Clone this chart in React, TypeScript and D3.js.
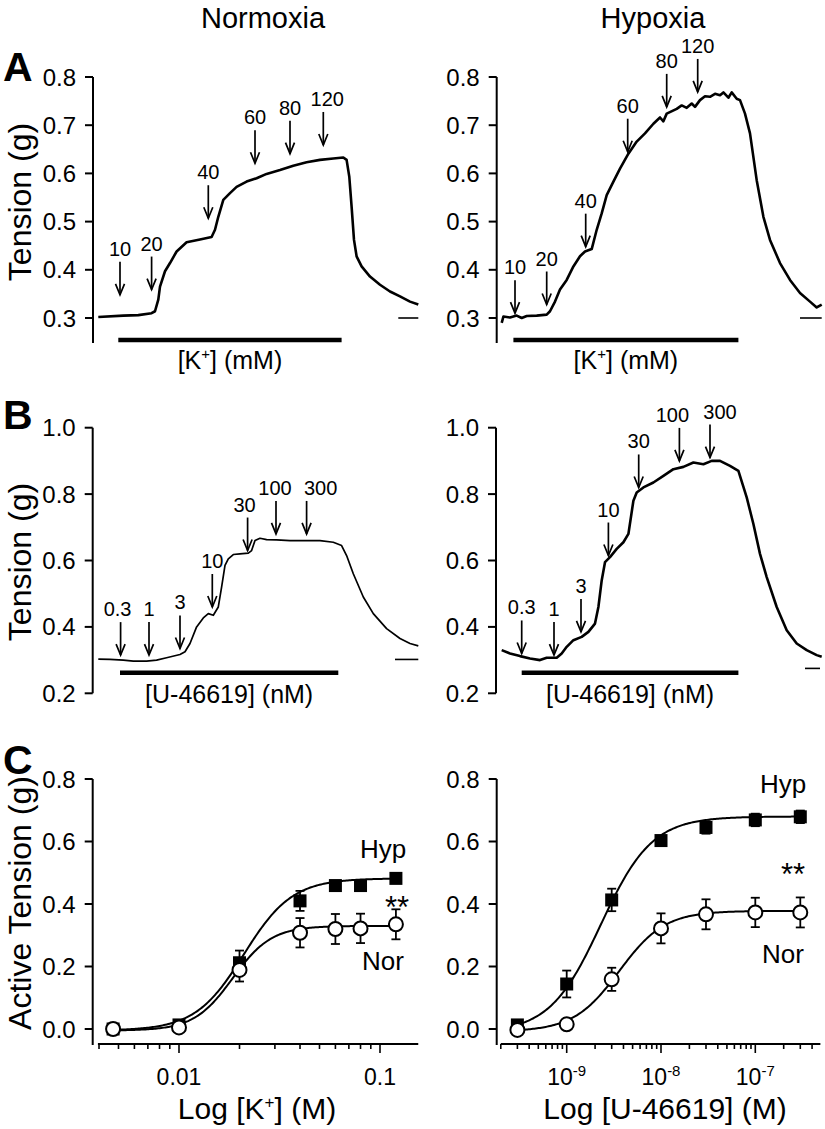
import React from "react";
import * as d3 from "d3";

const FONT = "'Liberation Sans', Arial, Helvetica, sans-serif";

// recorded traces: [time (min), tension (g)]
const kNorTrace: [number, number][] = [
  [0, 0.302], [2.5, 0.305], [4, 0.306], [5.33, 0.31], [5.67, 0.314], [6, 0.338], [6.17, 0.365],
  [6.67, 0.397], [7.17, 0.414], [7.83, 0.438], [8.83, 0.457], [10.17, 0.463], [11.33, 0.468],
  [11.67, 0.483], [12, 0.51], [12.5, 0.545], [13.17, 0.559], [13.83, 0.572], [14.83, 0.583],
  [15.83, 0.59], [16.83, 0.599], [18.17, 0.607], [19.5, 0.616], [20.83, 0.623], [22.17, 0.628],
  [23.5, 0.631], [24.5, 0.633], [24.83, 0.628], [25.1, 0.593], [25.33, 0.531], [25.57, 0.462],
  [25.83, 0.428], [26.33, 0.407], [27.17, 0.386], [28.17, 0.369], [29.17, 0.355], [30.17, 0.345],
  [31.17, 0.334], [32, 0.328],
];
const kHypTrace: [number, number][] = [
  [0, 0.29], [0.17, 0.303], [0.83, 0.301], [1.5, 0.305], [2, 0.3], [2.5, 0.304], [3.5, 0.305],
  [4.5, 0.307], [4.83, 0.314], [5.33, 0.334], [5.83, 0.359], [6.5, 0.379], [7.17, 0.407],
  [7.83, 0.428], [8.33, 0.438], [9, 0.443], [9.5, 0.483], [10, 0.517], [10.5, 0.555],
  [11.17, 0.583], [11.83, 0.61], [12.67, 0.641], [13.5, 0.666], [14.33, 0.683], [15.17, 0.703],
  [15.83, 0.716], [16.17, 0.708], [16.5, 0.724], [17.5, 0.734], [18, 0.741], [18.5, 0.736],
  [19, 0.745], [19.33, 0.738], [19.83, 0.752], [20.33, 0.76], [20.83, 0.759], [21.33, 0.765],
  [21.83, 0.762], [22.17, 0.768], [22.67, 0.757], [23, 0.768], [23.5, 0.755], [23.83, 0.752],
  [24.33, 0.724], [24.83, 0.683], [25.5, 0.586], [26.17, 0.51], [26.83, 0.462], [27.83, 0.414],
  [28.83, 0.379], [29.83, 0.352], [30.83, 0.334], [31.5, 0.322], [32, 0.328],
];
const uNorTrace: [number, number][] = [
  [0, 0.303], [1.17, 0.302], [2.5, 0.3], [3.5, 0.297], [4.83, 0.297], [5.83, 0.3], [6.83, 0.307],
  [8.17, 0.317], [8.67, 0.325], [9.17, 0.35], [9.83, 0.4], [10.5, 0.427], [11, 0.44], [11.5, 0.435],
  [12, 0.46], [12.33, 0.52], [12.67, 0.585], [13, 0.605], [13.5, 0.618], [14.17, 0.62], [15, 0.622],
  [15.33, 0.63], [15.67, 0.66], [16.17, 0.667], [16.83, 0.663], [17.83, 0.662], [19.17, 0.66],
  [20.83, 0.66], [22.17, 0.66], [23.5, 0.655], [24.33, 0.645], [24.83, 0.615], [25.5, 0.56],
  [26.5, 0.49], [27.5, 0.44], [28.83, 0.395], [30.17, 0.365], [31.17, 0.35], [32, 0.343],
];
const uHypTrace: [number, number][] = [
  [0, 0.33], [0.83, 0.32], [1.83, 0.312], [2.83, 0.305], [3.83, 0.3], [4.5, 0.307], [5.5, 0.307],
  [6, 0.32], [6.5, 0.34], [7.17, 0.36], [8, 0.37], [8.67, 0.385], [9.33, 0.41], [9.67, 0.46],
  [10, 0.54], [10.33, 0.595], [10.83, 0.61], [11.5, 0.635], [12.17, 0.655], [12.67, 0.68],
  [13.17, 0.78], [13.5, 0.805], [14.17, 0.82], [15.17, 0.835], [16.17, 0.855], [17.17, 0.875],
  [18.17, 0.882], [19.17, 0.895], [20.17, 0.89], [21, 0.9], [21.83, 0.9], [22.83, 0.885],
  [23.67, 0.87], [24.5, 0.79], [25.17, 0.71], [25.83, 0.62], [26.5, 0.55], [27.5, 0.46],
  [28.5, 0.39], [29.5, 0.35], [30.5, 0.33], [31.5, 0.315], [32, 0.31],
];

// additions: label, time (min), tension at arrow tip (g)
const kNorArrows = [
  { label: "10", t: 2.17, tip: 0.348 }, { label: "20", t: 5.33, tip: 0.359 },
  { label: "40", t: 11, tip: 0.507 }, { label: "60", t: 15.67, tip: 0.621 },
  { label: "80", t: 19.17, tip: 0.641 }, { label: "120", t: 22.5, tip: 0.659 },
];
const kHypArrows = [
  { label: "10", t: 1.33, tip: 0.31 }, { label: "20", t: 4.5, tip: 0.328 },
  { label: "40", t: 8.4, tip: 0.448 }, { label: "60", t: 12.6, tip: 0.645 },
  { label: "80", t: 16.5, tip: 0.738 }, { label: "120", t: 19.6, tip: 0.769 },
];
const uNorArrows = [
  { label: "0.3", t: 2.23, tip: 0.315 }, { label: "1", t: 5.07, tip: 0.315 },
  { label: "3", t: 8.17, tip: 0.335 }, { label: "10", t: 11.4, tip: 0.46 },
  { label: "30", t: 14.93, tip: 0.63 }, { label: "100", t: 17.77, tip: 0.68 },
  { label: "300", t: 20.83, tip: 0.68 },
];
const uHypArrows = [
  { label: "0.3", t: 2, tip: 0.32 }, { label: "1", t: 5.23, tip: 0.315 },
  { label: "3", t: 7.93, tip: 0.385 }, { label: "10", t: 10.67, tip: 0.615 },
  { label: "30", t: 13.7, tip: 0.82 }, { label: "100", t: 17.77, tip: 0.9 },
  { label: "300", t: 20.83, tip: 0.91 },
];

// agonist application (min) and baseline marks [t0, t1, g]
const kNorBar = [2, 24.33];
const kHypBar = [1.17, 23.67];
const uNorBar = [2.17, 24];
const uHypBar = [2, 23.67];
const kNorDash = [30, 32, 0.3];
const kHypDash = [29.83, 32, 0.3];
const uNorDash = [29.67, 32, 0.302];
const uHypDash = [30.33, 31.83, 0.275];

const kTicks = [0.3, 0.4, 0.5, 0.6, 0.7, 0.8];
const uTicks = [0.2, 0.4, 0.6, 0.8, 1.0];
const crcTicks = [0, 0.2, 0.4, 0.6, 0.8];

// concentration-response, mean and SEM (g)
const kConc = [0.0047, 0.01, 0.02, 0.04, 0.06, 0.08, 0.12];
const kHypMean = [0.0, 0.013, 0.212, 0.41, 0.459, 0.459, 0.482];
const kHypSem = [0.008, 0.008, 0.039, 0.032, 0.012, 0.01, 0.01];
const kNorMean = [0.0, 0.005, 0.189, 0.308, 0.32, 0.322, 0.335];
const kNorSem = [0.008, 0.008, 0.037, 0.047, 0.048, 0.047, 0.048];

const uConc = [3e-10, 1e-9, 3e-9, 1e-8, 3e-8, 1e-7, 3e-7];
const uHypMean = [0.013, 0.144, 0.413, 0.603, 0.645, 0.669, 0.679];
const uHypSem = [0.008, 0.043, 0.036, 0.01, 0.02, 0.02, 0.02];
const uNorMean = [-0.003, 0.015, 0.159, 0.322, 0.367, 0.373, 0.373];
const uNorSem = [0.005, 0.005, 0.037, 0.048, 0.048, 0.047, 0.048];

// sigmoid fits
const kHypFit = { bottom: -0.005, top: 0.482, ec50: 0.021, hill: 3.6 };
const kNorFit = { bottom: -0.005, top: 0.33, ec50: 0.0185, hill: 4.5 };
const uHypFit = { bottom: -0.012, top: 0.68, ec50: 2.3e-9, hill: 1.6 };
const uNorFit = { bottom: -0.008, top: 0.378, ec50: 3.6e-9, hill: 1.8 };

const fmt1 = d3.format(".1f");

function Arrow({ x, yTip, label, dx }: { x: number; yTip: number; label: string; dx: number }) {
  const len = 33;
  return (
    <g>
      <line x1={x} x2={x} y1={yTip - len} y2={yTip} stroke="#000" strokeWidth={1.7} />
      <polyline
        points={`${x - 4.5},${yTip - 11} ${x},${yTip} ${x + 4.5},${yTip - 11}`}
        fill="none"
        stroke="#000"
        strokeWidth={1.7}
      />
      <text x={x + dx} y={yTip - len - 6} textAnchor="middle" fontSize={20}>
        {label}
      </text>
    </g>
  );
}

function YAxis({ x, y, ticks, y0, y1 }: any) {
  return (
    <g>
      <line x1={x} x2={x} y1={y0} y2={y1} stroke="#000" strokeWidth={2} />
      {ticks.map((v: number) => (
        <g key={v}>
          <line x1={x - 8} x2={x} y1={y(v)} y2={y(v)} stroke="#000" strokeWidth={2} />
          <text x={x - 17} y={y(v) + 8.5} textAnchor="end" fontSize={24}>
            {fmt1(v)}
          </text>
        </g>
      ))}
    </g>
  );
}

function TracePanel(props: any) {
  const { axisX, x0, yDomain, yRange, ticks, axisEnd, trace, arrows, bar, barY, barLabel, labelY, dash, width } = props;
  const shift = props.labelShift || {};
  const x = d3.scaleLinear().domain([0, 32]).range([x0, x0 + 320]);
  const y = d3.scaleLinear().domain(yDomain).range(yRange);
  const line = d3.line<[number, number]>().x((d) => x(d[0])).y((d) => y(d[1]));
  return (
    <g>
      <YAxis x={axisX} y={y} ticks={ticks} y0={y(yDomain[1])} y1={axisEnd} />
      <path d={line(trace) || ""} fill="none" stroke="#000" strokeWidth={width} strokeLinejoin="round" />
      {arrows.map((a: any) => (
        <Arrow key={a.label} x={x(a.t)} yTip={y(a.tip)} label={a.label} dx={shift[a.label] || 0} />
      ))}
      <line x1={x(bar[0])} x2={x(bar[1])} y1={barY} y2={barY} stroke="#000" strokeWidth={4.5} />
      <line x1={x(dash[0])} x2={x(dash[1])} y1={y(dash[2])} y2={y(dash[2])} stroke="#000" strokeWidth={1.6} />
      <text x={(x(bar[0]) + x(bar[1])) / 2} y={labelY} textAnchor="middle" fontSize={25}>
        {barLabel}
      </text>
    </g>
  );
}

function hill(f: any, c: number) {
  return f.bottom + (f.top - f.bottom) / (1 + Math.pow(f.ec50 / c, f.hill));
}

function DosePanel(props: any) {
  const { axisX, logDomain, logRange, extent, conc, hyp, hypSem, nor, norSem, hypFit, norFit, labels, tickLabel, title, titleX } = props;
  const x = d3.scaleLog().domain(logDomain).range(logRange);
  const y = d3.scaleLinear().domain([0, 0.8]).range([1029, 779]);
  const axisY = 1044;
  const tickScale = d3.scaleLog().domain(extent);
  const allTicks = tickScale.ticks();
  const isMajor = (v: number) => Math.abs(Math.log10(v) - Math.round(Math.log10(v))) < 1e-6;
  const lo = Math.log(conc[0]);
  const hi = Math.log(conc[conc.length - 1]);
  const curveX = d3.range(0, 201).map((i) => Math.exp(lo + (i / 200) * (hi - lo)));
  const line = d3.line<number>().x((c) => x(c)).y((c) => y(hill(hypFit, c)));
  const lineN = d3.line<number>().x((c) => x(c)).y((c) => y(hill(norFit, c)));
  const err = (means: number[], sems: number[]) =>
    conc.map((c: number, i: number) => {
      const cx = x(c);
      const t = y(means[i] + sems[i]);
      const b = y(means[i] - sems[i]);
      return (
        <g key={i} stroke="#000" strokeWidth={1.8}>
          <line x1={cx} x2={cx} y1={t} y2={b} />
          <line x1={cx - 4.5} x2={cx + 4.5} y1={t} y2={t} />
          <line x1={cx - 4.5} x2={cx + 4.5} y1={b} y2={b} />
        </g>
      );
    });
  return (
    <g>
      <YAxis x={axisX} y={y} ticks={crcTicks} y0={y(0.8)} y1={axisY + 1} />
      <line x1={x(extent[0])} x2={x(extent[1])} y1={axisY} y2={axisY} stroke="#000" strokeWidth={2} />
      {allTicks.map((v: number, i: number) => (
        <line key={i} x1={x(v)} x2={x(v)} y1={axisY} y2={axisY + (isMajor(v) ? 9 : 5)} stroke="#000" strokeWidth={1.6} />
      ))}
      {allTicks.filter(isMajor).map((v: number, i: number) => (
        <text key={i} x={x(v)} y={1085} textAnchor="middle" fontSize={23}>
          {tickLabel(v)}
        </text>
      ))}
      <text x={titleX} y={1119} textAnchor="middle" fontSize={30}>
        {title}
      </text>
      <path d={line(curveX) || ""} fill="none" stroke="#000" strokeWidth={2} />
      <path d={lineN(curveX) || ""} fill="none" stroke="#000" strokeWidth={2} />
      {err(hyp, hypSem)}
      {err(nor, norSem)}
      {conc.map((c: number, i: number) => (
        <rect key={"h" + i} x={x(c) - 6.5} y={y(hyp[i]) - 6.5} width={13} height={13} fill="#000" />
      ))}
      {conc.map((c: number, i: number) => (
        <circle key={"n" + i} cx={x(c)} cy={y(nor[i])} r={7} fill="#fff" stroke="#000" strokeWidth={2} />
      ))}
      <text x={labels.hyp[0]} y={labels.hyp[1]} textAnchor="middle" fontSize={26}>Hyp</text>
      <text x={labels.star[0]} y={labels.star[1]} textAnchor="middle" fontSize={31}>**</text>
      <text x={labels.nor[0]} y={labels.nor[1]} textAnchor="middle" fontSize={26}>Nor</text>
    </g>
  );
}

const kLabel = (
  <>
    [K<tspan dy={-10} fontSize={15}>+</tspan>
    <tspan dy={10}>] (mM)</tspan>
  </>
);
const uLabel = "[U-46619] (nM)";

export default function App() {
  return (
    <div style={{ position: "absolute", left: 0, top: 0 }}>
      <svg width={825} height={1129} style={{ display: "block", background: "#fff" }} fontFamily={FONT}>
        <text x={263} y={28} textAnchor="middle" fontSize={29}>Normoxia</text>
        <text x={653} y={28} textAnchor="middle" fontSize={29}>Hypoxia</text>

        <text x={3} y={81} fontSize={41} fontWeight="bold">A</text>
        <text x={3} y={429} fontSize={41} fontWeight="bold">B</text>
        <text x={3} y={774} fontSize={41} fontWeight="bold">C</text>

        <text transform="translate(31,202) rotate(-90)" textAnchor="middle" fontSize={32}>Tension (g)</text>
        <text transform="translate(31,562) rotate(-90)" textAnchor="middle" fontSize={32}>Tension (g)</text>
        <text transform="translate(31,903) rotate(-90)" textAnchor="middle" fontSize={32}>Active Tension (g)</text>

        <TracePanel
          axisX={93} x0={98.3} yDomain={[0.3, 0.8]} yRange={[318, 77]} ticks={kTicks} axisEnd={343}
          trace={kNorTrace} arrows={kNorArrows} bar={kNorBar} barY={340} barLabel={kLabel} labelY={369}
          dash={kNorDash} width={2.6} labelShift={{ "120": 4 }}
        />
        <TracePanel
          axisX={496.7} x0={501.7} yDomain={[0.3, 0.8]} yRange={[318, 77]} ticks={kTicks} axisEnd={343}
          trace={kHypTrace} arrows={kHypArrows} bar={kHypBar} barY={340} barLabel={kLabel} labelY={369}
          dash={kHypDash} width={2.6}
        />
        <TracePanel
          axisX={92.7} x0={98.3} yDomain={[0.2, 1.0]} yRange={[693.3, 427.7]} ticks={uTicks} axisEnd={693.3}
          trace={uNorTrace} arrows={uNorArrows} bar={uNorBar} barY={672.7} barLabel={uLabel} labelY={703}
          dash={uNorDash} width={1.7} labelShift={{ "100": -1, "300": 14, "30": -3, "0.3": -3 }}
        />
        <TracePanel
          axisX={496} x0={501.7} yDomain={[0.2, 1.0]} yRange={[693.3, 427.7]} ticks={uTicks} axisEnd={693.3}
          trace={uHypTrace} arrows={uHypArrows} bar={uHypBar} barY={672.7} barLabel={uLabel} labelY={703}
          dash={uHypDash} width={2.6} labelShift={{ "100": -7, "300": 10, "0.3": 0 }}
        />

        <DosePanel
          axisX={92.7} logDomain={[0.01, 0.1]} logRange={[179, 380]} extent={[0.00395, 0.155]}
          conc={kConc} hyp={kHypMean} hypSem={kHypSem} nor={kNorMean} norSem={kNorSem}
          hypFit={kHypFit} norFit={kNorFit}
          labels={{ hyp: [383, 858], star: [397, 918], nor: [383, 970] }}
          tickLabel={(v: number) => d3.format("~g")(v)}
          title={<>Log [K<tspan dy={-11} fontSize={17}>+</tspan><tspan dy={11}>] (M)</tspan></>}
          titleX={257}
        />
        <DosePanel
          axisX={496.7} logDomain={[1e-9, 1e-7]} logRange={[566.7, 755.3]} extent={[2e-10, 4.9e-7]}
          conc={uConc} hyp={uHypMean} hypSem={uHypSem} nor={uNorMean} norSem={uNorSem}
          hypFit={uHypFit} norFit={uNorFit}
          labels={{ hyp: [783, 793], star: [793, 885], nor: [783, 963] }}
          tickLabel={(v: number) => (
            <>10<tspan dy={-9} fontSize={15}>{Math.round(Math.log10(v))}</tspan></>
          )}
          title="Log [U-46619] (M)"
          titleX={665}
        />
      </svg>
    </div>
  );
}
